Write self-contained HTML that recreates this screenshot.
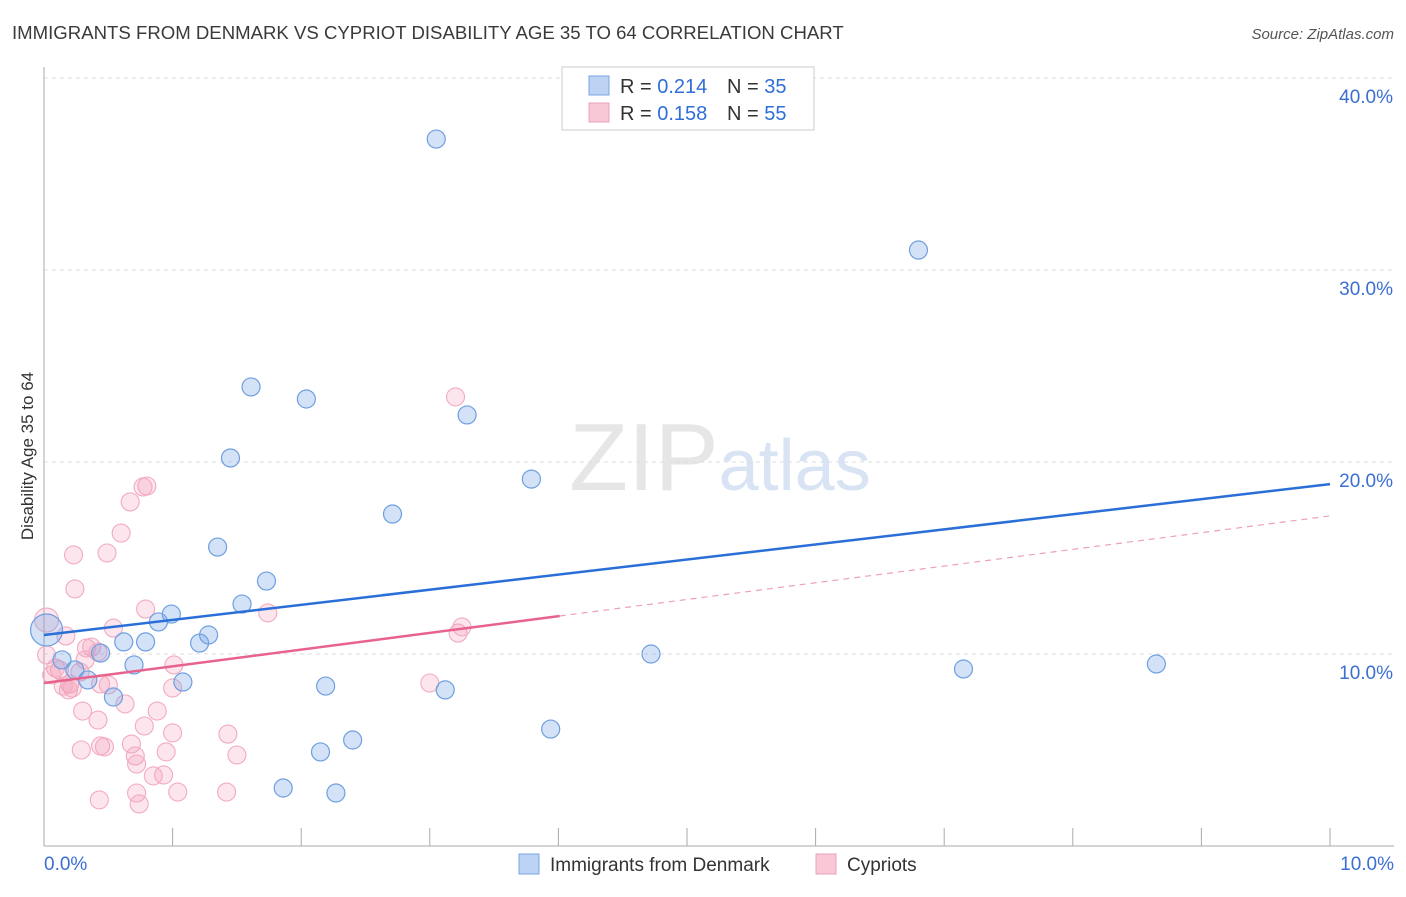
<!DOCTYPE html>
<html><head><meta charset="utf-8"><style>
body{margin:0;background:#fff;font-family:"Liberation Sans",sans-serif;}
svg text{font-family:"Liberation Sans",sans-serif;}
</style></head><body>
<svg id="chart" width="1406" height="892" xmlns="http://www.w3.org/2000/svg">
<text x="12" y="39" font-size="18.6" fill="#3a3a3a">IMMIGRANTS FROM DENMARK VS CYPRIOT DISABILITY AGE 35 TO 64 CORRELATION CHART</text>
<text x="1394" y="39" font-size="15" fill="#555" text-anchor="end" font-style="italic">Source: ZipAtlas.com</text>
<text x="720" y="490" font-size="96" text-anchor="middle" fill="#e6e6e6" font-family="Liberation Serif"><tspan>ZIP</tspan><tspan fill="#d8e4f4" font-family="Liberation Sans" font-size="72">atlas</tspan></text>
<text transform="translate(33,456) rotate(-90)" font-size="17" fill="#333" text-anchor="middle">Disability Age 35 to 64</text>
<g id="grid"></g><g id="marks"></g>
<g>
<rect x="562" y="67" width="252" height="63" fill="#fff" stroke="#ccc"/>
<rect x="589" y="76" width="20" height="19" fill="#bcd3f3" stroke="#7aa6e3"/>
<text x="620" y="93" font-size="20" fill="#333">R = <tspan fill="#2f6fd6">0.214</tspan></text>
<text x="727" y="93" font-size="20" fill="#333">N = <tspan fill="#2f6fd6">35</tspan></text>
<rect x="589" y="103" width="20" height="19" fill="#f8c8d6" stroke="#eea0b8"/>
<text x="620" y="120" font-size="20" fill="#333">R = <tspan fill="#2f6fd6">0.158</tspan></text>
<text x="727" y="120" font-size="20" fill="#333">N = <tspan fill="#2f6fd6">55</tspan></text>
</g>
<g>
<rect x="519" y="854" width="20" height="20" fill="#bcd3f3" stroke="#7aa6e3"/>
<text x="550" y="871" font-size="19" fill="#333">Immigrants from Denmark</text>
<rect x="816" y="854" width="20" height="20" fill="#f8c8d6" stroke="#eea0b8"/>
<text x="847" y="871" font-size="19" fill="#333">Cypriots</text>
</g>
</svg>
<script>
const yTicks=[10,20,30,40];
const yTickLabels=["10.0%","20.0%","30.0%","40.0%"];
const xTickLabels=["0.0%","10.0%"];
const blueX=[3.05,6.80,1.61,2.04,3.29,1.45,3.79,2.71,1.35,1.73,1.54,0.99,0.89,1.28,0.62,0.79,1.21,0.44,4.72,0.70,7.15,8.65,0.14,0.24,0.34,1.08,0.54,2.19,3.12,3.94,2.40,2.15,1.86,2.27,0.02];
const blueY=[36.82,31.04,23.91,23.28,22.45,20.21,19.11,17.29,15.57,13.80,12.60,12.08,11.67,10.99,10.63,10.63,10.57,10.05,10.00,9.43,9.22,9.48,9.69,9.17,8.65,8.54,7.76,8.33,8.13,6.09,5.52,4.90,3.02,2.76,11.25];
const pinkX=[0.80,0.77,0.67,0.60,0.23,0.49,0.24,0.79,3.20,1.74,0.54,0.02,0.17,0.33,0.37,0.12,0.28,0.42,0.32,0.09,0.20,0.44,0.50,0.19,0.22,0.15,1.01,1.00,0.88,0.63,0.42,0.30,1.43,0.29,0.44,1.00,0.78,0.68,0.95,0.71,0.72,0.93,0.85,0.47,1.50,3.00,3.22,3.25,0.72,1.04,0.43,0.74,1.42,0.02,0.06];
const pinkY=[18.75,18.70,17.92,16.30,15.16,15.26,13.39,12.34,23.39,12.14,11.35,11.77,10.94,10.31,10.36,9.17,9.06,10.10,9.69,9.27,8.44,8.44,8.39,8.13,8.23,8.33,9.43,8.23,7.03,7.40,6.56,7.03,5.83,5.00,5.21,5.89,6.25,5.31,4.90,4.69,4.27,3.70,3.65,5.16,4.74,8.49,11.09,11.41,2.76,2.81,2.40,2.19,2.81,9.95,8.91];
const blueTrend=[10.99,0.786];
const pinkTrend=[8.49,0.87];
const pinkSolidEnd=4.01;
const NS="http://www.w3.org/2000/svg";
const sx=v=>44+v*128.6, sy=v=>846-v*19.2;
function mk(tag,attrs,parent){const e=document.createElementNS(NS,tag);for(const k in attrs)e.setAttribute(k,attrs[k]);parent.appendChild(e);return e;}
const grid=document.getElementById('grid'), marks=document.getElementById('marks');
yTicks.forEach((t,i)=>{
 const l=mk('line',{x1:44,x2:1394,y1:sy(t),y2:sy(t),stroke:'#ddd','stroke-dasharray':'4,4'},grid);
 
 
 const tx=mk('text',{x:1393,y:sy(t)+25,'font-size':19,fill:'#3b6fd4','text-anchor':'end'},grid);
 tx.textContent=yTickLabels[i];
 
 
});
mk('line',{x1:44,x2:44,y1:67,y2:846,stroke:'#aaa'},grid);
mk('line',{x1:44,x2:1394,y1:846,y2:846,stroke:'#aaa'},grid);
for(let i=0;i<=10;i++){const t=mk('line',{x1:sx(i),x2:sx(i),y1:828,y2:846,stroke:'#aaa'},grid);
 
 }
[[0,'start',44],[10,'end',1394]].forEach((d,i)=>{const tx=mk('text',{x:d[2],y:870,'font-size':19,fill:'#3b6fd4','text-anchor':d[1]},grid);tx.textContent=xTickLabels[i];
 
 });
pinkX.forEach((x,i)=>{const c=mk('circle',{cx:sx(x),cy:sy(pinkY[i]),r:(i==11?12:9),fill:'rgba(244,150,180,0.25)',stroke:'#f2abc0','stroke-width':1.1},marks);
 
 });
blueX.forEach((x,i)=>{const c=mk('circle',{cx:sx(x),cy:sy(blueY[i]),r:(i==34?16:9),fill:'rgba(110,160,230,0.3)',stroke:'#6f9fe0','stroke-width':1.2},marks);
 
 });
const bl=mk('line',{x1:sx(0),y1:sy(blueTrend[0]),x2:sx(10),y2:sy(blueTrend[0]+blueTrend[1]*10),stroke:'#2a6fd8','stroke-width':2.5},marks);


const pl=mk('line',{x1:sx(0),y1:sy(pinkTrend[0]),x2:sx(pinkSolidEnd),y2:sy(pinkTrend[0]+pinkTrend[1]*pinkSolidEnd),stroke:'#e8628e','stroke-width':2.5},marks);


const pd=mk('line',{x1:sx(pinkSolidEnd),y1:sy(pinkTrend[0]+pinkTrend[1]*pinkSolidEnd),x2:sx(10),y2:sy(pinkTrend[0]+pinkTrend[1]*10),stroke:'#eea0b8','stroke-width':1.2,'stroke-dasharray':'6,5'},marks);


</script>
</body></html>
